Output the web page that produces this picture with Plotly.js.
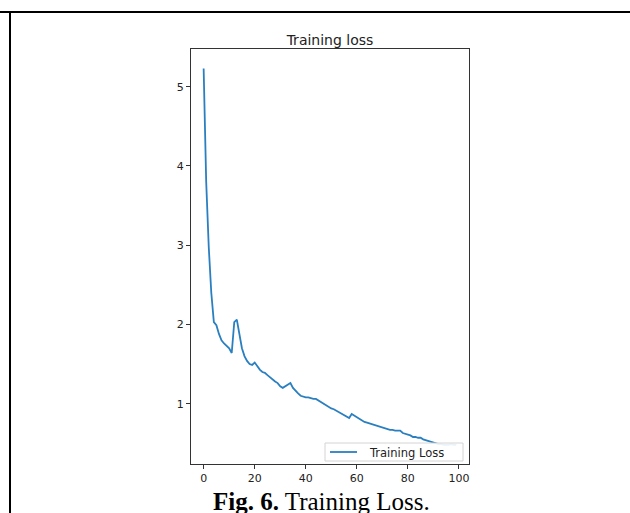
<!DOCTYPE html>
<html>
<head>
<meta charset="utf-8">
<script src="https://cdn.plot.ly/plotly-3.0.1.min.js"></script>
<style>
html,body{margin:0;padding:0;background:#fff;}
#wrap{position:relative;width:630px;height:513px;overflow:hidden;}
#chart{position:absolute;left:0;top:0;width:630px;height:513px;}
.bt{position:absolute;left:0;top:11px;width:630px;height:2px;background:#000;}
.bl{position:absolute;left:9px;top:11px;width:2px;height:502px;background:#000;}
</style>
</head>
<body>
<div id="wrap">
<div id="chart"></div>
<div class="bt"></div>
<div class="bl"></div>
</div>
<script>
const epochs = [];
for (let i = 0; i < 100; i++) epochs.push(i);
const trainingLoss = [
 5.23, 3.80, 2.98, 2.40, 2.03, 1.99, 1.88, 1.80, 1.76, 1.73,
 1.70, 1.64, 2.03, 2.06, 1.85, 1.70, 1.60, 1.54, 1.50, 1.49,
 1.52, 1.47, 1.43, 1.40, 1.39, 1.36, 1.33, 1.31, 1.28, 1.26,
 1.22, 1.20, 1.22, 1.23, 1.26, 1.20, 1.16, 1.13, 1.10, 1.09,
 1.08, 1.08, 1.07, 1.06, 1.06, 1.04, 1.01, 1.00, 0.98, 0.96,
 0.94, 0.93, 0.91, 0.90, 0.88, 0.86, 0.84, 0.82, 0.87, 0.85,
 0.82, 0.80, 0.79, 0.77, 0.76, 0.75, 0.74, 0.73, 0.72, 0.71,
 0.70, 0.69, 0.68, 0.67, 0.67, 0.66, 0.66, 0.66, 0.63, 0.62,
 0.61, 0.60, 0.58, 0.58, 0.57, 0.57, 0.55, 0.54, 0.53, 0.52,
 0.51, 0.50, 0.49, 0.49, 0.48, 0.48, 0.48, 0.49, 0.48, 0.48
];
const xTicks = [0, 20, 40, 60, 80, 100];
const yTicks = [1, 2, 3, 4, 5];
const seriesName = 'Training Loss';
const chartTitle = 'Training loss';
const lineColor = '#2a7fc0';

const axisCommon = {
  showgrid: false, zeroline: false, showline: true, mirror: true,
  linecolor: '#333', linewidth: 1, ticks: 'outside', ticklen: 4,
  tickcolor: '#333', tickwidth: 1,
  tickfont: {family: 'DejaVu Sans', size: 11, color: '#222'}
};

// plot area in pixels: x 191..469, y 49..464
const px = v => (v - 191) / 278;
const py = v => (464 - v) / 415;

Plotly.newPlot('chart', [{
  x: epochs, y: trainingLoss, type: 'scatter', mode: 'lines',
  name: seriesName, line: {color: lineColor, width: 1.8}, showlegend: false
}], {
  width: 630, height: 513,
  margin: {l: 191, r: 161, t: 49, b: 49},
  paper_bgcolor: '#fff', plot_bgcolor: '#fff',
  title: {text: chartTitle, font: {family: 'DejaVu Sans', size: 14, color: '#222'},
          x: 0.5, xref: 'paper', xanchor: 'center', y: 1 - 40/513, yanchor: 'middle'},
  xaxis: Object.assign({}, axisCommon, {range: [-4.95, 103.95], tickvals: xTicks}),
  yaxis: Object.assign({}, axisCommon, {range: [0.239, 5.476], tickvals: yTicks}),
  shapes: [
    {type: 'rect', xref: 'paper', yref: 'paper', x0: px(325), x1: px(463), y0: py(461), y1: py(443),
     fillcolor: 'rgba(255,255,255,0.9)', line: {color: '#d4d4d4', width: 1}, layer: 'above'},
    {type: 'line', xref: 'paper', yref: 'paper', x0: px(330), x1: px(357), y0: py(452), y1: py(452),
     line: {color: lineColor, width: 1.8}, layer: 'above'}
  ],
  annotations: [
    {xref: 'paper', yref: 'paper', x: px(367), y: py(452.5), xanchor: 'left', yanchor: 'middle',
     showarrow: false, text: seriesName,
     font: {family: 'DejaVu Sans', size: 11.5, color: '#222'}},
    {xref: 'paper', yref: 'paper', x: px(321), y: py(501),
     xanchor: 'center', yanchor: 'middle', showarrow: false,
     text: '<b>Fig. 6.</b> Training Loss.',
     font: {family: 'Liberation Serif', size: 25, color: '#000'}}
  ]
}, {staticPlot: true, displayModeBar: false});
</script>
</body>
</html>
